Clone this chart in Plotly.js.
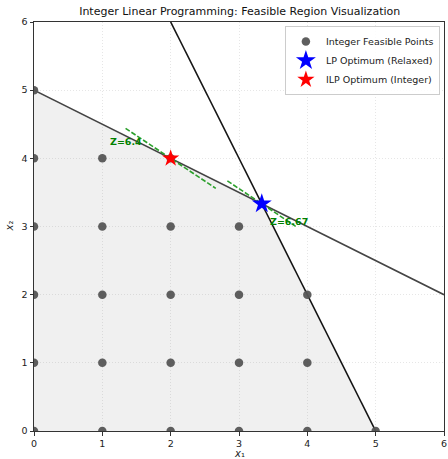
<!DOCTYPE html>
<html><head><meta charset="utf-8">
<script src="https://cdn.plot.ly/plotly-3.0.1.min.js"></script>
<style>body{margin:0;background:#fff}#chart{width:448px;height:459px}</style>
</head><body><div id="chart"></div>
<script>
// Integer feasible points
const intX = [0,0,0,0,0,0, 1,1,1,1,1, 2,2,2,2,2, 3,3,3,3, 4,4,4, 5];
const intY = [0,1,2,3,4,5, 0,1,2,3,4, 0,1,2,3,4, 0,1,2,3, 0,1,2, 0];
// Feasible region vertices
const regionX = [0, 5, 3.3333, 0];
const regionY = [0, 0, 3.3333, 5];
// Constraint lines: x1 + 2x2 = 10 and 2x1 + x2 = 10
const c1X = [0, 6], c1Y = [5, 2];
const c2X = [2, 5], c2Y = [6, 0];
// Optima
const lpX = [3.3333], lpY = [3.3333], lpZ = 6.67;
const ilpX = [2], ilpY = [4], ilpZ = 6.4;
// Objective iso-lines (Z = 0.8x1 + 1.2x2)
const isoIlpX = [1.34, 2.66], isoIlpY = [4.44, 3.56];
const isoLpX = [2.83, 3.83], isoLpY = [3.669, 3.002];
const ticks = [0,1,2,3,4,5,6];

const font = 'DejaVu Sans, sans-serif';
const traces = [
  {x: regionX, y: regionY, type:'scatter', mode:'lines', fill:'toself', fillcolor:'rgba(128,128,128,0.12)', line:{width:0}, showlegend:false, hoverinfo:'skip'},
  {x: c1X, y: c1Y, type:'scatter', mode:'lines', line:{color:'#444', width:1.6}, showlegend:false, hoverinfo:'skip'},
  {x: c2X, y: c2Y, type:'scatter', mode:'lines', line:{color:'#151515', width:1.6}, showlegend:false, hoverinfo:'skip'},
  {x: intX, y: intY, type:'scatter', mode:'markers', name:'Integer Feasible Points', marker:{color:'#555', size:8.5, opacity:0.95}},
  {x: isoIlpX, y: isoIlpY, type:'scatter', mode:'lines', line:{color:'#2ca02c', width:1.6, dash:'5px,2px'}, showlegend:false, hoverinfo:'skip'},
  {x: isoLpX, y: isoLpY, type:'scatter', mode:'lines', line:{color:'#2ca02c', width:1.6, dash:'5px,2px'}, showlegend:false, hoverinfo:'skip'},
  {x: lpX, y: lpY, type:'scatter', mode:'markers', name:'LP Optimum (Relaxed)', marker:{color:'blue', symbol:'star', size:15}},
  {x: ilpX, y: ilpY, type:'scatter', mode:'markers', name:'ILP Optimum (Integer)', marker:{color:'red', symbol:'star', size:13}}
];
const axisBase = {range:[0,6], tickvals:ticks, ticktext:ticks.map(String), showgrid:true, gridcolor:'#e6e6e6', griddash:'1px,2px', gridwidth:1,
  showline:true, linecolor:'#333', linewidth:1, mirror:true, ticks:'outside', ticklen:3.5, tickcolor:'#333', zeroline:false,
  tickfont:{family:font, size:9.5, color:'#222'}};
const layout = {
  width:448, height:459, margin:{l:34, r:4, t:22, b:28},
  paper_bgcolor:'#fff', plot_bgcolor:'#fff',
  title:{text:'Integer Linear Programming: Feasible Region Visualization', font:{family:font, size:11, color:'#111'}, x:0.535, xanchor:'center', y:0.985, yanchor:'top'},
  xaxis: Object.assign({}, axisBase),
  yaxis: Object.assign({}, axisBase),
  legend:{x:0.99, xanchor:'right', y:0.99, yanchor:'top', bgcolor:'rgba(255,255,255,0.85)', bordercolor:'#ccc', borderwidth:1, font:{family:font, size:9.5, color:'#222'}, itemwidth:30, tracegroupgap:0},
  annotations:[
    {x:1.08, y:4.25, xref:'x', yref:'y', text:'<b>Z='+ilpZ.toFixed(1)+'</b>', showarrow:false, xanchor:'left', font:{family:font, size:9.5, color:'green'}},
    {x:3.42, y:3.08, xref:'x', yref:'y', text:'<b>Z='+lpZ.toFixed(2)+'</b>', showarrow:false, xanchor:'left', font:{family:font, size:9.5, color:'green'}},
    {x:0.5, y:0, xref:'paper', yref:'paper', yanchor:'top', yshift:-15, text:'<i>x</i>₁', showarrow:false, font:{family:font, size:10, color:'#222'}},
    {x:0, y:0.5, xref:'paper', yref:'paper', xanchor:'center', xshift:-25, textangle:-90, text:'<i>x</i>₂', showarrow:false, font:{family:font, size:10, color:'#222'}}
  ],
  showlegend:true
};
Plotly.newPlot('chart', traces, layout, {displayModeBar:false, staticPlot:true});
</script></body></html>
